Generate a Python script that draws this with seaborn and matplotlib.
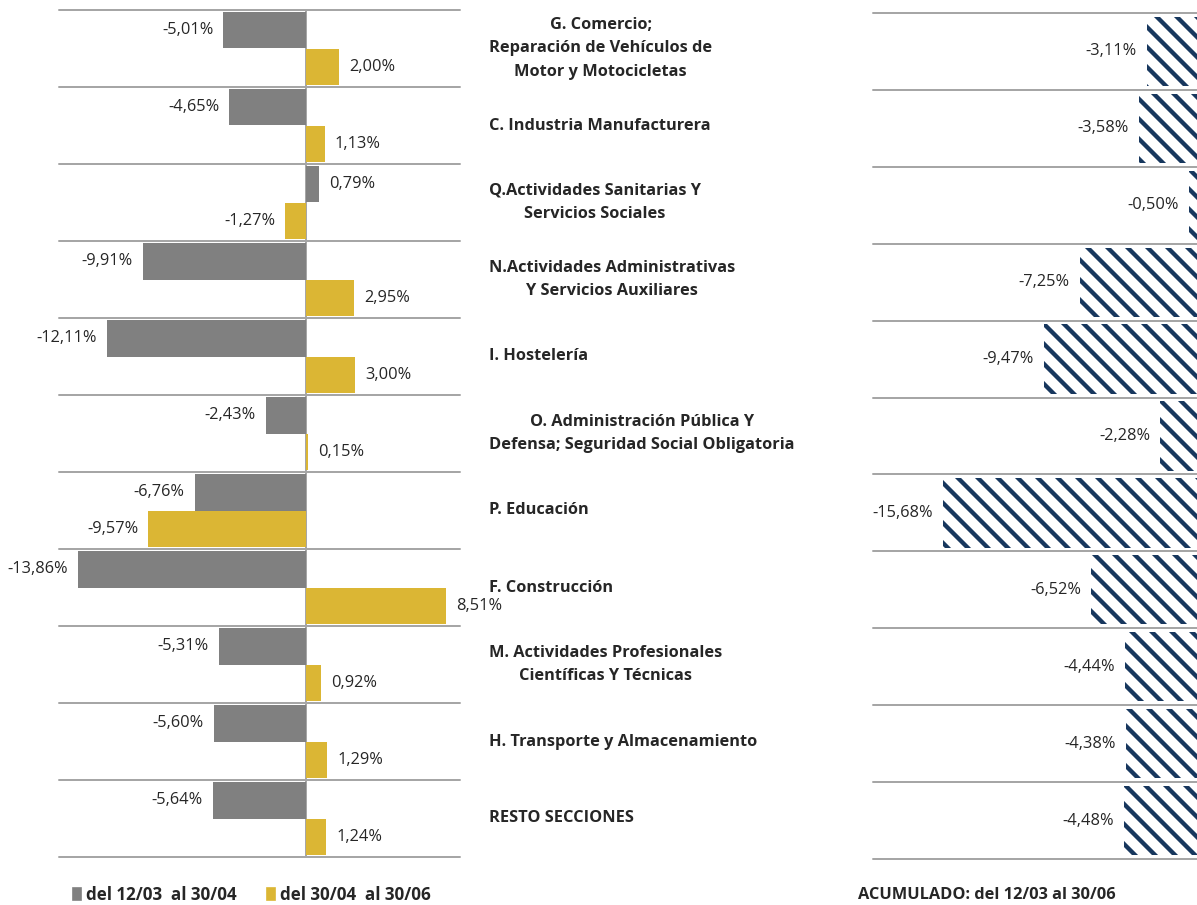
import pandas as pd
import seaborn as sns
import matplotlib.pyplot as plt
from matplotlib.patches import Patch
from matplotlib.transforms import blended_transform_factory

# data
secciones = [
    "G. Comercio;\nReparación de Vehículos de\nMotor y Motocicletas",
    "C. Industria Manufacturera",
    "Q.Actividades Sanitarias Y\nServicios Sociales",
    "N.Actividades Administrativas\nY Servicios Auxiliares",
    "I. Hostelería",
    "O. Administración Pública Y\nDefensa; Seguridad Social Obligatoria",
    "P. Educación",
    "F. Construcción",
    "M. Actividades Profesionales\nCientíficas Y Técnicas",
    "H. Transporte y Almacenamiento",
    "RESTO SECCIONES",
]
periodos = ["del 12/03  al 30/04", "del 30/04  al 30/06"]
var_12mar_30abr = [-5.01, -4.65, 0.79, -9.91, -12.11, -2.43, -6.76, -13.86, -5.31, -5.60, -5.64]
var_30abr_30jun = [2.00, 1.13, -1.27, 2.95, 3.00, 0.15, -9.57, 8.51, 0.92, 1.29, 1.24]
acumulado = [-3.11, -3.58, -0.50, -7.25, -9.47, -2.28, -15.68, -6.52, -4.44, -4.38, -4.48]
titulo_acum = "ACUMULADO: del 12/03 al 30/06"

GRIS = "#808080"
ORO = "#DBB634"
AZUL = "#17375E"
LINEA = "#A6A6A6"

sns.set_style("white")
plt.rcParams["font.family"] = ["Open Sans", "DejaVu Sans"]
plt.rcParams["hatch.linewidth"] = 2.6

def fmt(v):
    return f"{v:.2f}".replace(".", ",") + "%"

df = pd.DataFrame({
    "Sección": secciones * 2,
    "Periodo": [periodos[0]] * len(secciones) + [periodos[1]] * len(secciones),
    "Variación": var_12mar_30abr + var_30abr_30jun,
})
df_acum = pd.DataFrame({"Sección": secciones, "Acumulado": acumulado})

DPI = 120
fig = plt.figure(figsize=(1197 / DPI, 905 / DPI), dpi=DPI)
W, H = 1197, 905
ax1 = fig.add_axes([59 / W, (H - 857) / H, 401 / W, 847 / H])
ax2 = fig.add_axes([873 / W, (H - 859) / H, 324 / W, 846 / H])

VAL_FS = 9.8
CAT_FS = 9.8

# 1) left: two periods
sns.barplot(data=df, x="Variación", y="Sección", hue="Periodo", hue_order=periodos,
            palette=[GRIS, ORO], width=0.96, orient="h", legend=False,
            saturation=1, linewidth=0, ax=ax1)
for cont, vals in zip(ax1.containers, [var_12mar_30abr, var_30abr_30jun]):
    ax1.bar_label(cont, labels=[fmt(v) for v in vals], padding=6, fontsize=VAL_FS)
ax1.set_xlim(-15.0, 9.36)
ax1.set_ylim(len(secciones) - 0.5, -0.5)
ax1.axvline(0, color=LINEA, lw=1.2, zorder=0)

# 2) right: accumulated
sns.barplot(data=df_acum, x="Acumulado", y="Sección", color="white", edgecolor=AZUL,
            hatch="\\\\", linewidth=0, width=0.9, orient="h", saturation=1, ax=ax2)
ax2.bar_label(ax2.containers[0], labels=[fmt(v) for v in acumulado], padding=6, fontsize=VAL_FS)
ax2.set_xlim(-20, 0)
ax2.set_ylim(len(secciones) - 0.5, -0.5)

for ax in (ax1, ax2):
    for k in range(len(secciones) + 1):
        ax.axhline(k - 0.5, color=LINEA, lw=1.2, zorder=0, clip_on=False)
    ax.set_xlabel("")
    ax.set_ylabel("")
    ax.set_xticks([])
    ax.set_yticks([])
    sns.despine(ax=ax, left=True, bottom=True)

# category names in the middle
tr = blended_transform_factory(fig.transFigure, ax1.transData)
for i, s in enumerate(secciones):
    ax1.text(489 / W, i, s, transform=tr, ha="left", va="center", multialignment="center",
             fontsize=CAT_FS, fontweight="bold", linespacing=1.62, clip_on=False)

# legend
handles = [Patch(color=GRIS), Patch(color=ORO)]
fig.legend(handles, periodos, loc="center left", bbox_to_anchor=(73 / W, (H - 895) / H),
           ncol=2, frameon=False, borderpad=0, borderaxespad=0, handlelength=0.45,
           handleheight=0.65, handletextpad=0.3, columnspacing=1.8,
           prop={"weight": "bold", "size": 10.2})
fig.text(858 / W, (H - 895) / H, titulo_acum, ha="left", va="center",
         fontsize=CAT_FS, fontweight="bold")

fig.savefig("out.png", dpi=DPI)
